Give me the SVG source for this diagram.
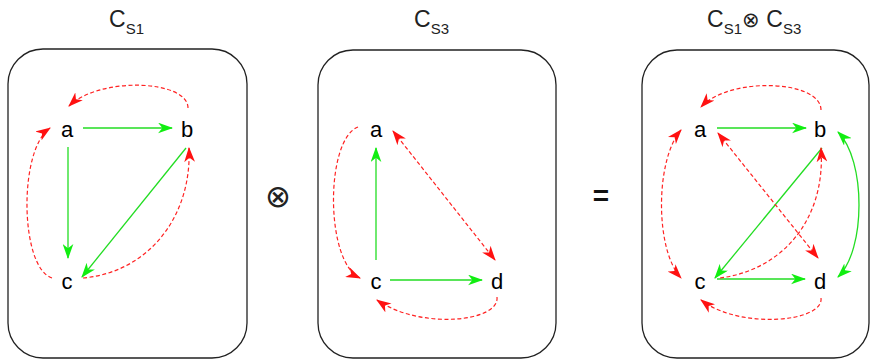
<svg xmlns="http://www.w3.org/2000/svg" width="873" height="363" viewBox="0 0 873 363">
<style>
.box{fill:none;stroke:#222;stroke-width:1.3}
.lbl{font-family:"Liberation Sans",Arial,sans-serif;font-size:22px;fill:#000;text-anchor:middle}
.ttl{font-family:"Liberation Sans",Arial,sans-serif;font-size:23px;fill:#222}
.sub{font-size:15px}
.op{font-family:"DejaVu Sans",sans-serif;font-weight:200}
.g{fill:none;stroke:#22dd22;stroke-width:1.3}
.r{fill:none;stroke:#ff2222;stroke-width:1.2;stroke-dasharray:4,2.5}
</style>
<defs>
<marker id="ag" viewBox="0 0 14 10" refX="13" refY="5" markerWidth="15" markerHeight="11" markerUnits="userSpaceOnUse" orient="auto-start-reverse"><path d="M0,0 L14,5 L0,10 L4,5 z" fill="#11ee11"/></marker>
<marker id="ar" viewBox="0 0 14 10" refX="13" refY="5" markerWidth="15" markerHeight="11" markerUnits="userSpaceOnUse" orient="auto-start-reverse"><path d="M0,0 L14,5 L0,10 L4,5 z" fill="#ff1111"/></marker>
</defs>

<g id="titles">
<text class="ttl" x="109" y="27">C<tspan class="sub" dy="7">S1</tspan></text>
<text class="ttl" x="414" y="27">C<tspan class="sub" dy="7">S3</tspan></text>
<text class="ttl" x="707" y="27">C<tspan class="sub" dy="7">S1</tspan><tspan class="op" dy="-7" font-size="21">⊗</tspan> C<tspan class="sub" dy="7">S3</tspan></text>
</g>

<g id="ops">
<text class="op" x="278" y="207" font-size="31" text-anchor="middle" fill="#222">⊗</text>
<text x="601" y="205" font-family="Liberation Sans,Arial,sans-serif" font-weight="bold" font-size="28" text-anchor="middle" fill="#111">=</text>
</g>

<g id="box1"><rect class="box" x="8" y="49" width="239" height="309" rx="35" ry="35"/></g>
<g id="box2"><rect class="box" x="318" y="50" width="238" height="308" rx="35" ry="35"/></g>
<g id="box3"><rect class="box" x="642" y="50" width="227" height="308" rx="35" ry="35"/></g>

<g id="nodes1">
<g id="n1a"><text class="lbl" x="67" y="137">a</text></g>
<g id="n1b"><text class="lbl" x="187" y="137">b</text></g>
<g id="n1c"><text class="lbl" x="67" y="289">c</text></g>
</g>
<g id="nodes2">
<g id="n2a"><text class="lbl" x="376" y="137">a</text></g>
<g id="n2c"><text class="lbl" x="376" y="289">c</text></g>
<g id="n2d"><text class="lbl" x="497" y="289">d</text></g>
</g>
<g id="nodes3">
<g id="n3a"><text class="lbl" x="700" y="137">a</text></g>
<g id="n3b"><text class="lbl" x="820" y="137">b</text></g>
<g id="n3c"><text class="lbl" x="700" y="289">c</text></g>
<g id="n3d"><text class="lbl" x="820" y="289">d</text></g>
</g>

<g id="connectors">
<!-- box 1 -->
<path class="g" d="M83,128 L172,128" marker-end="url(#ag)"/>
<path class="g" d="M68,147 L68,258" marker-end="url(#ag)"/>
<path class="g" d="M186,148 L82,277" marker-end="url(#ag)"/>
<path class="r" d="M188,108 C188,80 100,76 69,106" marker-end="url(#ar)"/>
<path class="r" d="M52,278 C20,268 18,150 50,128" marker-end="url(#ar)"/>
<path class="r" d="M83,278 C150,272 192,215 189,148" marker-end="url(#ar)"/>
<!-- box 2 -->
<path class="g" d="M376,260 L376,148" marker-end="url(#ag)"/>
<path class="g" d="M390,280 L482,280" marker-end="url(#ag)"/>
<path class="r" d="M393,131 L495,260" marker-start="url(#ar)" marker-end="url(#ar)"/>
<path class="r" d="M358,127 C325,140 325,262 360,278" marker-end="url(#ar)"/>
<path class="r" d="M497,297 C500,322 420,330 377,300" marker-end="url(#ar)"/>
<!-- box 3 -->
<path class="g" d="M717,128 L806,128" marker-end="url(#ag)"/>
<path class="g" d="M822,148 L715,278" marker-end="url(#ag)"/>
<path class="g" d="M717,279 L805,279" marker-end="url(#ag)"/>
<path class="g" d="M838,132 C866,160 866,250 838,277" marker-start="url(#ag)" marker-end="url(#ag)"/>
<path class="r" d="M821,110 C821,80 730,76 701,107" marker-end="url(#ar)"/>
<path class="r" d="M681,130 C655,160 655,250 681,278" marker-start="url(#ar)" marker-end="url(#ar)"/>
<path class="r" d="M718,133 L818,258" marker-start="url(#ar)" marker-end="url(#ar)"/>
<path class="r" d="M720,278 C782,270 826,220 821,148" marker-end="url(#ar)"/>
<path class="r" d="M821,298 C824,322 740,330 701,300" marker-end="url(#ar)"/>
</g>
</svg>
